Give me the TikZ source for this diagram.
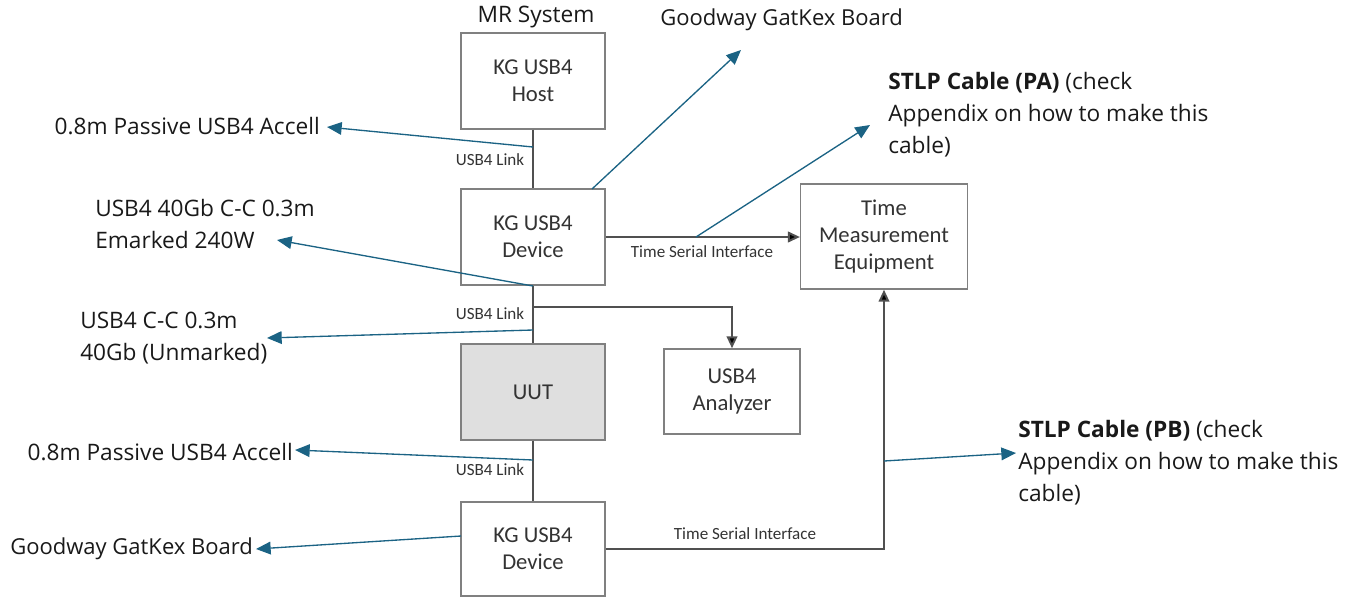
\documentclass[tikz,border=0pt]{standalone}
\usepackage{fontspec}
\setmainfont{Carlito}
\newfontfamily\annfont{Open Sans}
\usetikzlibrary{arrows.meta}
\definecolor{boxline}{HTML}{808080}
\definecolor{linkline}{HTML}{505050}
\definecolor{ann}{HTML}{1B6384}
\definecolor{uutfill}{HTML}{DFDFDF}
\definecolor{txt}{HTML}{333333}
\begin{document}
\begin{tikzpicture}[x=0.75pt,y=-0.75pt,
  blk/.style={draw=boxline, line width=1.1pt, fill=white, text=txt,
    font=\fontsize{17}{20}\selectfont, align=center, inner sep=0pt,
    minimum width=108pt, minimum height=72pt},
  link/.style={draw=linkline, line width=1.5pt},
  blktip/.style={-{Triangle[length=9pt,width=8pt,fill=black]}},
  small/.style={font=\fontsize{12.8}{15}\selectfont, text=txt, inner sep=0pt},
  anntext/.style={font=\annfont\fontsize{17}{24}\selectfont, text=black!90, inner sep=0pt, align=left},
  gwtext/.style={anntext, font=\annfont\fontsize{16.5}{24}\selectfont},
  annarrow/.style={draw=ann, line width=1pt, -{Triangle[length=11pt,width=9.5pt]}}
]
\useasboundingbox (0,0) rectangle (1346,597);

% blocks
\node[blk] (host) at (533,81) {KG USB4\\Host};
\node[blk] (dev1) at (533,237) {KG USB4\\Device};
\node[blk, fill=uutfill] (uut) at (533,392) {UUT};
\node[blk, minimum height=70.5pt] (dev2) at (533,549) {KG USB4\\Device};
\node[blk, minimum width=125pt, minimum height=78.75pt] (tme) at (884,236.5) {Time\\Measurement\\Equipment};
\node[blk, minimum width=102pt, minimum height=63.75pt] (ana) at (732,391.5) {USB4\\Analyzer};

% links
\draw[link] (host.south) -- (dev1.north);
\draw[link] (dev1.south) -- (uut.north);
\draw[link] (uut.south) -- (dev2.north);
\coordinate (br) at (533,307);
\draw[link, blktip] (br) -- (br -| ana.north) -- (ana.north);
\draw[link, blktip] (dev1.east) -- (dev1.east -| tme.west);
\draw[link, blktip] (dev2.east) -| (tme.south);

% link labels
\node[small] (l1) at (490,160) {USB4 Link};
\node[small] (l2) at (490,314) {USB4 Link};
\node[small] (l3) at (490,470) {USB4 Link};
\node[small] (t1) at (702,252) {Time Serial Interface};
\node[small] (t2) at (745,534) {Time Serial Interface};

% titles and annotations
\node[anntext] (mr) at (536,17) {MR System};
\node[gwtext, anchor=west] (gw1) at (660,20) {Goodway GatKex Board};
\node[anntext, anchor=north west] (pa) at (888,72) {\textbf{STLP Cable (PA)} (check\\Appendix on how to make this\\cable)};
\node[anntext, anchor=north west] (pb) at (1018,420) {\textbf{STLP Cable (PB)} (check\\Appendix on how to make this\\cable)};
\node[anntext, anchor=east] (acc1) at (320,126) {0.8m Passive USB4 Accell};
\node[anntext, anchor=north west] (c240) at (95,199) {USB4 40Gb C-C 0.3m\\Emarked 240W};
\node[anntext, anchor=north west] (cun) at (80,312) {USB4 C-C 0.3m\\40Gb (Unmarked)};
\node[anntext, anchor=east] (acc2) at (293,452) {0.8m Passive USB4 Accell};
\node[gwtext, anchor=west] (gw2) at (10,549) {Goodway GatKex Board};

% annotation arrows
\coordinate (s1) at (533,147);   \coordinate (e1) at (327,127);
\coordinate (s2) at (592,189);   \coordinate (e2) at (741,50);
\coordinate (s3) at (696,237);   \coordinate (e3) at (870,125);
\coordinate (s4) at (533,286);   \coordinate (e4) at (277,240);
\coordinate (s5) at (533,330);   \coordinate (e5) at (267,338);
\coordinate (s6) at (533,460);   \coordinate (e6) at (295,450);
\coordinate (s7) at (461,536);   \coordinate (e7) at (256,549);
\coordinate (s8) at (884,461);   \coordinate (e8) at (1016,453);
\draw[annarrow] (s1) -- (e1);
\draw[annarrow] (s2) -- (e2);
\draw[annarrow] (s3) -- (e3);
\draw[annarrow] (s4) -- (e4);
\draw[annarrow] (s5) -- (e5);
\draw[annarrow] (s6) -- (e6);
\draw[annarrow] (s7) -- (e7);
\draw[annarrow] (s8) -- (e8);
\end{tikzpicture}
\end{document}
